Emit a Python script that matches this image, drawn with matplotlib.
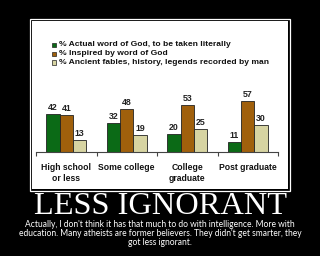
import matplotlib
matplotlib.use("Agg")
import matplotlib.pyplot as plt
from matplotlib.patches import Rectangle
import numpy as np

categories = ["High school\nor less", "Some college", "College\ngraduate", "Post graduate"]
series_names = ["% Actual word of God, to be taken literally",
                "% Inspired by word of God",
                "% Ancient fables, history, legends recorded by man"]
literal = [42, 32, 20, 11]
inspired = [41, 48, 53, 57]
fables = [13, 19, 25, 30]
colors = ["#0b6a16", "#a0600c", "#d7d4a2"]
title = "LESS IGNORANT"
caption = ("Actually, I don't think it has that much to do with intelligence. More with\n"
           "education. Many atheists are former believers. They didn't get smarter, they\n"
           "got less ignorant.")

W, H = 320, 256
fig = plt.figure(figsize=(W/100, H/100), dpi=100, facecolor="black")

def fx(px): return px / W
def fy(py): return 1 - py / H

# frame
fig.patches.append(Rectangle((fx(30), fy(191)), fx(260), (191-19)/H, transform=fig.transFigure,
                             facecolor="none", edgecolor="white", linewidth=0.9, zorder=-5))
fig.patches.append(Rectangle((fx(32), fy(189)), fx(256), (189-21)/H, transform=fig.transFigure,
                             facecolor="white", edgecolor="none", zorder=-5))

ax = fig.add_axes([fx(36), fy(151.7), fx(242), (151.7-98)/H])
ax.set_facecolor("none")
ax.set_zorder(2)
x = np.arange(len(categories))
w = 0.222
offs = [-w, 0, w]
for vals, off, c in zip([literal, inspired, fables], offs, colors):
    bars = ax.bar(x + off, vals, width=w, color=c, edgecolor="#222222", linewidth=0.6, zorder=2)
    for b, v in zip(bars, vals):
        ax.text(b.get_x() + b.get_width()/2, v + 2.2, str(v), ha="center", va="bottom",
                fontsize=6.3, family="Liberation Sans", fontweight="bold", color="#222222",
                clip_on=False)
ax.set_xlim(-0.5, 3.5)
ax.set_ylim(0, 60.3)
for s in ["top", "right", "left"]:
    ax.spines[s].set_visible(False)
ax.spines["bottom"].set_color("#444444")
ax.spines["bottom"].set_linewidth(0.8)
ax.set_yticks([])
ax.set_xticks([-0.5, 0.5, 1.5, 2.5, 3.5])
ax.set_xticklabels([])
ax.tick_params(axis="x", length=3, width=0.8, color="#444444")
for xi, lab in zip(x, categories):
    ax.text(xi, -13.0, lab, ha="center", va="top", fontsize=6.25, family="Liberation Sans",
            fontweight="bold", color="#111111", linespacing=1.2)

# legend
leg_y = [45, 53.6, 62.3]
for yy, name, c in zip(leg_y, series_names, colors):
    fig.patches.append(Rectangle((fx(52), fy(yy+2.3)), 4.4/W, 4.4/H, transform=fig.transFigure,
                                 facecolor=c, edgecolor="#222222", linewidth=0.5, zorder=3))
    fig.text(fx(59), fy(yy), name, ha="left", va="center", fontsize=6.1,
             family="Liberation Sans", fontweight="bold", color="#111111")

fig.text(0.5, fy(206), title, ha="center", va="center", fontsize=23.3,
         family="Liberation Serif", color="white")
fig.text(0.5, fy(233.5), caption, ha="center", va="center", fontsize=6.15,
         family="Lato", color="white", linespacing=1.05)

fig.savefig("out.png", dpi=100, facecolor="black")
